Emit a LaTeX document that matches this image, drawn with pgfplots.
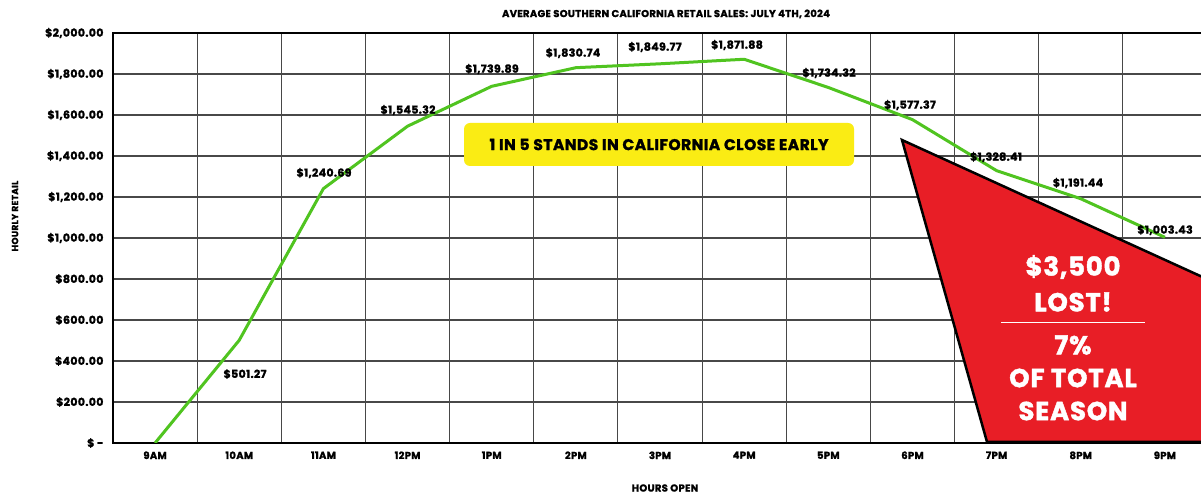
\documentclass[border=0pt]{standalone}
\usepackage{pgfplots}
\pgfplotsset{compat=1.18}
\usepackage{pgfplotstable}
\usepackage{fontspec}
\setmainfont{Poppins}[BoldFeatures={FakeBold=1.6, LetterSpace=3}]
\definecolor{linegreen}{RGB}{80,196,32}
\definecolor{gridgray}{RGB}{72,72,72}
\definecolor{boxyellow}{RGB}{250,236,20}
\definecolor{lossred}{RGB}{232,30,38}
\pgfplotstableread{
x y
0 0
1 501.27
2 1240.69
3 1545.32
4 1739.89
5 1830.74
6 1849.77
7 1871.88
8 1734.32
9 1577.37
10 1328.41
11 1191.44
12 1003.43
}\sales
\begin{document}
\begin{tikzpicture}[x=1pt,y=1pt]
\useasboundingbox[fill=white] (0,0) rectangle (1201,495);
\begin{axis}[
  at={(113pt,52pt)}, anchor=south west, scale only axis,
  width=1094pt, height=410pt,
  xmin=-0.5, xmax=12.5, ymin=0, ymax=2000,
  xtick={0,...,12},
  xticklabels={9AM,10AM,11AM,12PM,1PM,2PM,3PM,4PM,5PM,6PM,7PM,8PM,9PM},
  minor xtick={-0.5,0.5,...,12.5},
  xminorgrids,
  ytick={0,200,...,2000},
  yticklabels={\$ -,\$200.00,\$400.00,\$600.00,\$800.00,\$1{,}000.00,\$1{,}200.00,\$1{,}400.00,\$1{,}600.00,\$1{,}800.00,\$2{,}000.00},
  ymajorgrids,
  major tick length=0, minor tick length=0,
  grid style={draw=gridgray, line width=1.1pt},
  minor grid style={draw=gridgray, line width=1.1pt},
  axis line style={black, line width=1.8pt},
  xticklabel style={font=\bfseries\fontsize{10}{12}\selectfont, yshift=-5pt},
  yticklabel style={font=\bfseries\fontsize{11}{13}\selectfont, xshift=-6pt},
]
\addplot[linegreen, line width=3pt, line join=round] table[x=x,y=y] {\sales};
\end{axis}
% data labels
\begin{scope}[every node/.style={font=\bfseries\fontsize{11}{13}\selectfont, inner sep=0pt}]
\node at (245,121) {\$501.27};
\node at (324,322) {\$1,240.69};
\node at (408,385) {\$1,545.32};
\node at (492,426) {\$1,739.89};
\node at (573,442) {\$1,830.74};
\node at (655,448) {\$1,849.77};
\node at (737,450) {\$1,871.88};
\node at (829,422) {\$1,734.32};
\node at (910,390) {\$1,577.37};
\node at (996,338) {\$1,328.41};
\node at (1078,312) {\$1,191.44};
\node at (1165,265) {\$1,003.43};
\end{scope}
% titles
\node[font=\bfseries\fontsize{10}{12}\selectfont, inner sep=0pt] at (666,481) {AVERAGE SOUTHERN CALIFORNIA RETAIL SALES: JULY 4TH, 2024};
\node[font=\bfseries\fontsize{10}{12}\selectfont, inner sep=0pt] at (665,7) {HOURS OPEN};
\node[font=\bfseries\fontsize{9}{11}\selectfont, inner sep=0pt, rotate=90] at (15,279) {HOURLY RETAIL};
% yellow box
\fill[boxyellow, rounded corners=6pt] (464,329) rectangle (854,372);
\node[font=\bfseries\fontsize{15.5}{18}\selectfont, inner sep=0pt] at (659,350.5) {1 IN 5 STANDS IN CALIFORNIA CLOSE EARLY};
% red loss area
\filldraw[fill=lossred, draw=black, line width=2.5pt, line join=miter] (902,355) -- (987,53) -- (1220,53) -- (1220,210) -- cycle;
\begin{scope}[every node/.style={font=\bfseries\fontsize{26}{28}\selectfont, inner sep=0pt, text=white}]
\node at (1073,228) {\$3,500};
\node at (1073,193) {LOST!};
\node at (1073,150) {7\%};
\node at (1073,117) {OF TOTAL};
\node at (1073,84) {SEASON};
\end{scope}
\draw[white, line width=1pt] (1001,172) -- (1145,172);
\end{tikzpicture}
\end{document}
